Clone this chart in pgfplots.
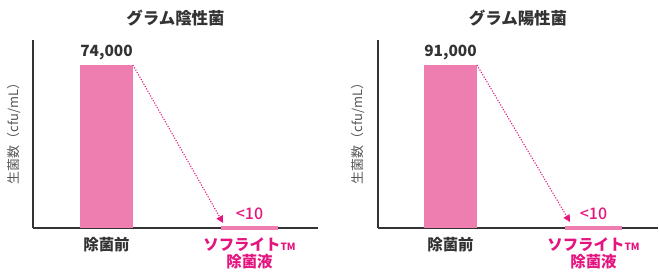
\documentclass[border=0pt]{standalone}
\usepackage{pgfplots}
\pgfplotsset{compat=1.18}
\usepackage{fontspec}
\setmainfont{Noto Sans CJK JP}
\newfontfamily\blackfont{Noto Sans CJK JP Black}
\newfontfamily\medfont{Noto Sans CJK JP Medium}
\usetikzlibrary{arrows.meta}
\definecolor{barpink}{HTML}{EF7EB0}
\definecolor{mag}{HTML}{E4157F}
\definecolor{dark}{HTML}{333333}
\definecolor{lab}{HTML}{555555}
\begin{document}
\begin{tikzpicture}
\path[use as bounding box] (0bp,0bp) rectangle (659bp,273bp);
\pgfplotsset{
  common/.style={
    scale only axis, anchor=south west,
    ybar, bar width=53bp, bar shift=0pt,
    ymin=0, enlargelimits=false, clip=false,
    axis lines=left,
    axis line style={draw=dark, line width=1.4bp, -},
    ytick=\empty, xtick={0,1}, major tick length=0pt,
    xticklabels={{\textcolor{dark}{\bfseries 除菌前}},{\textcolor{mag}{\bfseries ソフライト{\fontsize{10}{10}\selectfont TM}}\\\textcolor{mag}{\bfseries 除菌液}}},
    xticklabel style={align=center, font=\fontsize{15.5}{17}\selectfont, yshift=-6bp},
    title style={at={(0.5,1)}, anchor=center, yshift=16bp, font=\blackfont\fontsize{16.5}{20}\selectfont, text=dark},
    ylabel={生菌数（cfu/mL）},
    nodes near coords style={font=\bfseries\fontsize{15.5}{18}\selectfont, text=dark},
  }
}
% Left panel
\begin{axis}[common, at={(33bp,45bp)}, width=285bp, height=188bp,
  xmin=-0.514, xmax=1.479, ymax=85350,
  title={グラム陰性菌},
  every axis y label/.style={at={(axis description cs:-0.067,0.52)}, rotate=90, anchor=center, font=\fontsize{13}{15}\selectfont, text=lab}]
\addplot[fill=barpink, draw=none, nodes near coords={74,000}, nodes near coords style={yshift=1bp}] coordinates {(0,74000)};
\addplot[fill=barpink, draw=barpink, line width=3.5bp, nodes near coords={<10}, nodes near coords style={text=mag, font=\medfont\fontsize{16}{17}\selectfont, yshift=3bp}] coordinates {(1,10)};
\draw[mag, line width=1.1bp, dash pattern=on 1.1bp off 1.6bp, -{Triangle[length=7bp,width=7bp]}] (axis cs:0.185,74000) -- (axis cs:0.815,2300);
\end{axis}
% Right panel
\begin{axis}[common, at={(378bp,45bp)}, width=280bp, height=188bp,
  xmin=-0.507, xmax=1.451, ymax=104957,
  title={グラム陽性菌},
  every axis y label/.style={at={(axis description cs:-0.071,0.52)}, rotate=90, anchor=center, font=\fontsize{13}{15}\selectfont, text=lab}]
\addplot[fill=barpink, draw=none, nodes near coords={91,000}, nodes near coords style={yshift=1bp}] coordinates {(0,91000)};
\addplot[fill=barpink, draw=barpink, line width=3.5bp, nodes near coords={<10}, nodes near coords style={text=mag, font=\medfont\fontsize{16}{17}\selectfont, yshift=3bp}] coordinates {(1,10)};
\draw[mag, line width=1.1bp, dash pattern=on 1.1bp off 1.6bp, -{Triangle[length=7bp,width=7bp]}] (axis cs:0.185,91000) -- (axis cs:0.836,3350);
\end{axis}
\end{tikzpicture}
\end{document}
